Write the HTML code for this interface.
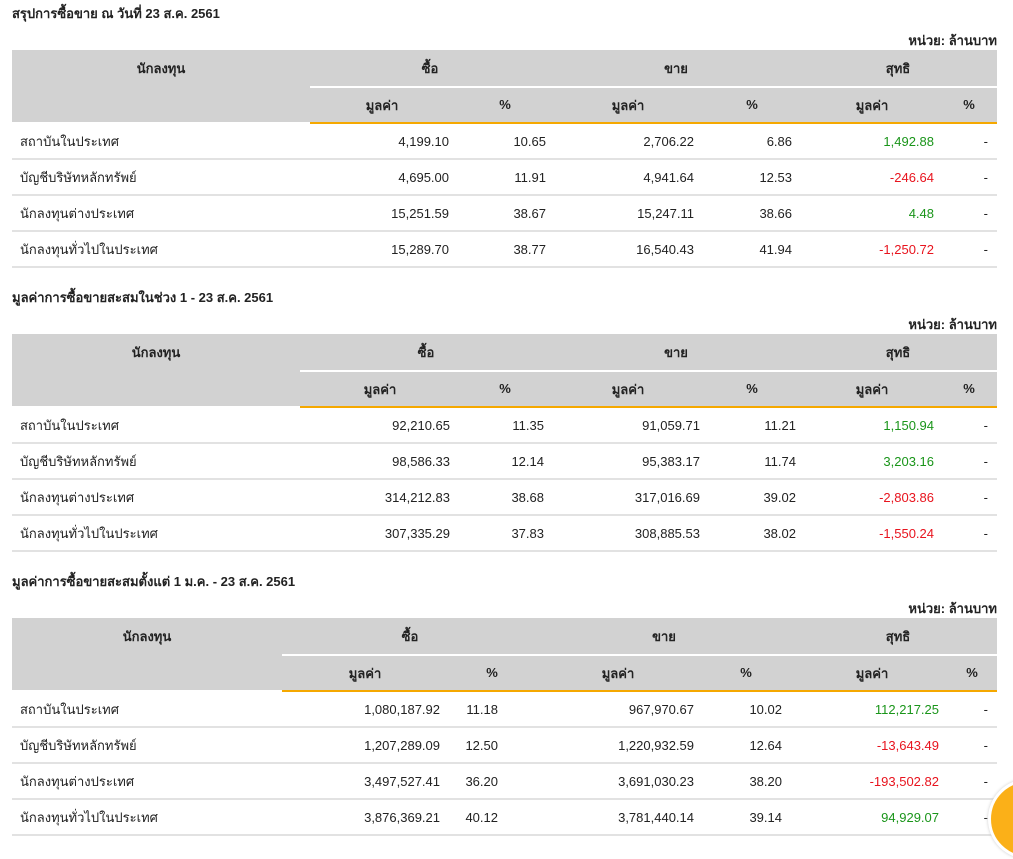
<!DOCTYPE html>
<html><head><meta charset="utf-8"><style>
body{margin:0;width:1013px;height:841px;background:#fff;font-family:"Liberation Sans","DejaVu Sans",sans-serif;font-size:13px;color:#222;position:relative;overflow:hidden}
.blk{position:absolute;left:0;width:1013px;height:284px}
.t{position:absolute;left:12px;top:3px;font-weight:bold;font-size:13px}
.u{position:absolute;right:16px;top:30px;font-weight:bold;font-size:13px}
.h1{position:absolute;left:12px;top:50px;width:985px;height:36px;background:#d2d2d2}
.h2{position:absolute;left:12px;top:88px;width:985px;height:34px;background:#d2d2d2}
.ob{position:absolute;top:122px;height:2px;background:#f5a800}
.c{position:absolute;font-weight:bold;transform:translateX(-50%);white-space:nowrap}
.row{position:absolute;left:12px;width:985px;height:36px;border-bottom:2px solid #e2e2e2;box-sizing:border-box}
.cell{position:absolute;top:10px;white-space:nowrap}
.th{top:7px}
.r{transform:translateX(-100%)}
.g{color:#1a951a}.rd{color:#e8141e}
</style></head><body>
<div id="root"></div>
<div style="position:absolute;left:988px;top:779px;width:74px;height:74px;border-radius:50%;background:#fbb018;border:3px solid #fff;box-shadow:0 0 3px #ccc"></div>
<script>
const data=[
{t:"สรุปการซื้อขาย ณ วันที่ 23 ส.ค. 2561",sub:310,
 hc:[161,430,676,898],sc:[382,505,628,752,872,969],rc:[449,546,694,792,934,988],
 rows:[["สถาบันในประเทศ","4,199.10","10.65","2,706.22","6.86","1,492.88","g"],
 ["บัญชีบริษัทหลักทรัพย์","4,695.00","11.91","4,941.64","12.53","-246.64","rd"],
 ["นักลงทุนต่างประเทศ","15,251.59","38.67","15,247.11","38.66","4.48","g"],
 ["นักลงทุนทั่วไปในประเทศ","15,289.70","38.77","16,540.43","41.94","-1,250.72","rd"]]},
{t:"มูลค่าการซื้อขายสะสมในช่วง 1 - 23 ส.ค. 2561",sub:300,
 hc:[156,426,676,898],sc:[380,505,628,752,872,969],rc:[450,544,700,796,934,988],
 rows:[["สถาบันในประเทศ","92,210.65","11.35","91,059.71","11.21","1,150.94","g"],
 ["บัญชีบริษัทหลักทรัพย์","98,586.33","12.14","95,383.17","11.74","3,203.16","g"],
 ["นักลงทุนต่างประเทศ","314,212.83","38.68","317,016.69","39.02","-2,803.86","rd"],
 ["นักลงทุนทั่วไปในประเทศ","307,335.29","37.83","308,885.53","38.02","-1,550.24","rd"]]},
{t:"มูลค่าการซื้อขายสะสมตั้งแต่ 1 ม.ค. - 23 ส.ค. 2561",sub:282,
 hc:[147,410,664,898],sc:[365,492,618,746,872,972],rc:[440,498,694,782,939,988],
 rows:[["สถาบันในประเทศ","1,080,187.92","11.18","967,970.67","10.02","112,217.25","g"],
 ["บัญชีบริษัทหลักทรัพย์","1,207,289.09","12.50","1,220,932.59","12.64","-13,643.49","rd"],
 ["นักลงทุนต่างประเทศ","3,497,527.41","36.20","3,691,030.23","38.20","-193,502.82","rd"],
 ["นักลงทุนทั่วไปในประเทศ","3,876,369.21","40.12","3,781,440.14","39.14","94,929.07","g"]]}];
let h="";
data.forEach((d,i)=>{
 h+=`<div class="blk" style="top:${i*284}px"><div class="t">${d.t}</div><div class="u">หน่วย: ล้านบาท</div>
 <div class="h1"></div><div class="h2"></div><div class="ob" style="left:${d.sub}px;width:${997-d.sub}px"></div>
 <div style="position:absolute;left:12px;top:86px;width:${d.sub-12}px;height:36px;background:#d2d2d2"></div>`;
 ["นักลงทุน","ซื้อ","ขาย","สุทธิ"].forEach((s,k)=>h+=`<div class="c" style="left:${d.hc[k]}px;top:58px">${s}</div>`);
 ["มูลค่า","%","มูลค่า","%","มูลค่า","%"].forEach((s,k)=>h+=`<div class="c" style="left:${d.sc[k]}px;top:${s=='%'?97:95}px">${s}</div>`);
 d.rows.forEach((r,j)=>{
  h+=`<div class="row" style="top:${124+j*36}px"><div class="cell th" style="left:8px">${r[0]}</div>`;
  for(let k=1;k<=5;k++)h+=`<div class="cell r ${k==5?r[6]:''}" style="left:${d.rc[k-1]-12}px">${r[k]}</div>`;
  h+=`<div class="cell r" style="left:${d.rc[5]-12}px">-</div></div>`;
 });
 h+="</div>";
});
document.getElementById("root").innerHTML=h;
</script>
</body></html>
